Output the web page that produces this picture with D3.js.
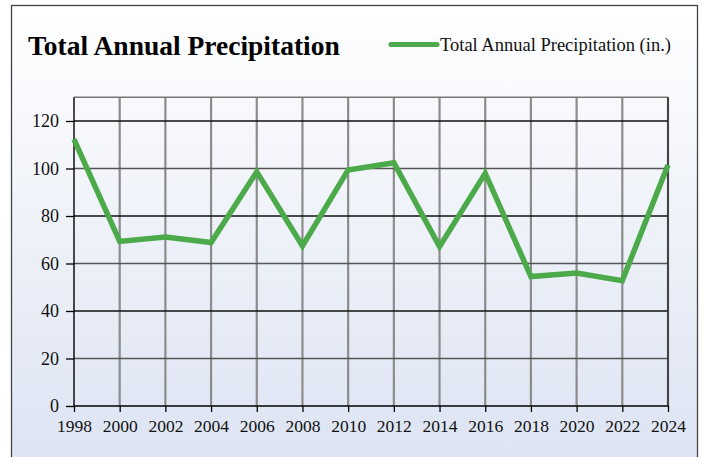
<!DOCTYPE html>
<html><head><meta charset="utf-8">
<script src="https://cdn.jsdelivr.net/npm/d3@7"></script>
<style>html,body{margin:0;padding:0;background:#fff;}svg{display:block;}</style>
</head><body>
<script>
const years = [1998,2000,2002,2004,2006,2008,2010,2012,2014,2016,2018,2020,2022,2024];
const precip = [112.3,69.3,71.2,68.8,98.6,67.4,99.4,102.4,67.1,98.0,54.5,56.0,52.8,101.5];
const yTicks = [0,20,40,60,80,100,120];
const seriesName = "Total Annual Precipitation (in.)";
const title = "Total Annual Precipitation";

const W = 704, H = 457;
const svg = d3.select("body").append("svg").attr("width", W).attr("height", H);
const defs = svg.append("defs");
const grad = defs.append("linearGradient").attr("id","bg").attr("x1",0).attr("y1",0).attr("x2",0).attr("y2",1);
grad.append("stop").attr("offset","0%").attr("stop-color","#ffffff");
grad.append("stop").attr("offset","100%").attr("stop-color","#dce3f2");

svg.append("rect").attr("x",11.5).attr("y",5.5).attr("width",686).attr("height",460)
  .attr("fill","url(#bg)").attr("stroke","#444").attr("stroke-width",1.3);

const x = d3.scaleLinear().domain([1998,2024]).range([74,668]);
const y = d3.scaleLinear().domain([0,130]).range([406,97.25]);
const font = "'Liberation Serif', 'Times New Roman', serif";

// vertical grid
svg.append("g").selectAll("line").data(years.slice(1)).join("line")
  .attr("x1",d=>x(d)).attr("x2",d=>x(d)).attr("y1",y(130)).attr("y2",y(0))
  .attr("stroke","#8c8c8c").attr("stroke-width",2.2);
// horizontal grid
svg.append("g").selectAll("line").data(yTicks.slice(1)).join("line")
  .attr("x1",x(1998)).attr("x2",x(2024)).attr("y1",d=>y(d)).attr("y2",d=>y(d))
  .attr("stroke",(d,i)=> i%2===0 ? "#555" : "#111").attr("stroke-width",1.4);
// top and right border
svg.append("line").attr("x1",x(1998)).attr("x2",x(2024)).attr("y1",y(130)).attr("y2",y(130)).attr("stroke","#777").attr("stroke-width",1.4);
svg.append("line").attr("x1",x(2024)).attr("x2",x(2024)).attr("y1",y(130)).attr("y2",y(0)).attr("stroke","#333").attr("stroke-width",1.6);

// axes
const yAxis = d3.axisLeft(y).tickValues(yTicks).tickSize(8).tickPadding(7);
const gy = svg.append("g").attr("transform",`translate(${x(1998)},0)`).call(yAxis);
const xAxis = d3.axisBottom(x).tickValues(years).tickFormat(d3.format("d")).tickSize(6).tickPadding(4);
const gx = svg.append("g").attr("transform",`translate(0,${y(0)})`).call(xAxis);
[gy,gx].forEach(g=>{
  g.select(".domain").remove();
  g.selectAll(".tick line").attr("stroke","#000").attr("stroke-width",1.3);
  g.selectAll("text").attr("font-family",font).attr("font-size",17.5).attr("fill","#111");
});
gx.selectAll("text").attr("dy","0.9em");
gy.selectAll("text").attr("font-size",18).attr("dy","0.32em");
svg.append("line").attr("x1",x(1998)).attr("x2",x(1998)).attr("y1",y(130)).attr("y2",y(0)).attr("stroke","#000").attr("stroke-width",1.4);
svg.append("line").attr("x1",x(1998)).attr("x2",x(2024)+0.7).attr("y1",y(0)).attr("y2",y(0)).attr("stroke","#000").attr("stroke-width",1.6);

// line
const line = d3.line().x((d,i)=>x(years[i])).y(d=>y(d));
svg.append("path").datum(precip).attr("d",line).attr("fill","none")
  .attr("stroke","#4caa4a").attr("stroke-width",5.5).attr("stroke-linejoin","miter");

// title
svg.append("text").attr("x",28).attr("y",55).attr("font-family",font).attr("font-weight","bold")
  .attr("font-size",27.5).attr("fill","#000").text(title);
// legend
svg.append("line").attr("x1",391).attr("x2",437).attr("y1",44.5).attr("y2",44.5)
  .attr("stroke","#4caa4a").attr("stroke-width",5).attr("stroke-linecap","round");
svg.append("text").attr("x",440).attr("y",51).attr("font-family",font).attr("font-size",18.5)
  .attr("fill","#111").text(seriesName);
</script>
</body></html>
